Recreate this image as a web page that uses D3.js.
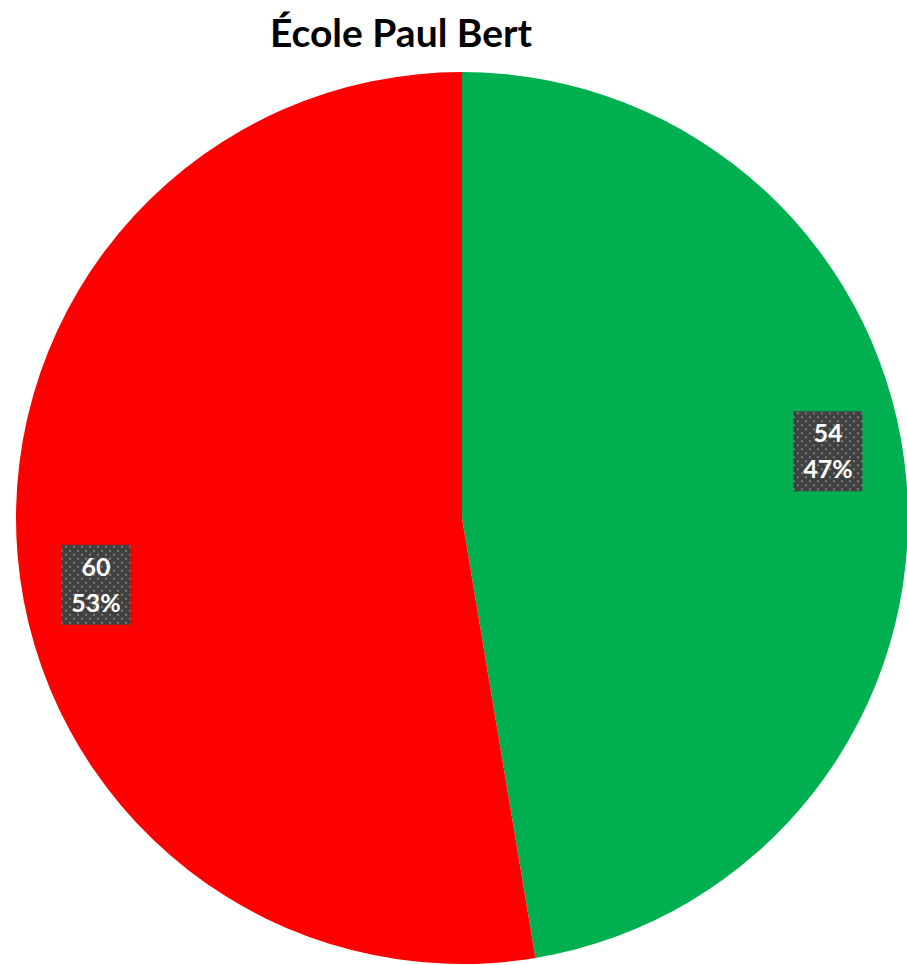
<!DOCTYPE html>
<html><head><meta charset="utf-8">
<script src="https://cdn.jsdelivr.net/npm/d3@7"></script>
<style>html,body{margin:0;padding:0;background:#fff;}svg{display:block;}</style>
</head><body>
<svg id="c" width="907" height="965"></svg>
<script>
const title = "École Paul Bert";
const categories = ["Oui", "Non"];
const values = [54, 60];
const colors = ["#00B050", "#FF0000"];

const svg = d3.select("#c");
const W = 907, H = 965;
const cx = 462, cy = 518, R = 446;

const defs = svg.append("defs");
const pat = defs.append("pattern").attr("id","dots").attr("patternUnits","userSpaceOnUse")
  .attr("width",8).attr("height",8);
pat.append("rect").attr("width",8).attr("height",8).attr("fill","#404040");
pat.append("circle").attr("cx",2).attr("cy",2).attr("r",1.1).attr("fill","#8a8a8a");
pat.append("circle").attr("cx",6).attr("cy",6).attr("r",1.1).attr("fill","#8a8a8a");

svg.append("text").attr("x",401).attr("y",47).attr("text-anchor","middle")
  .attr("font-family","Lato, 'Open Sans', sans-serif").attr("font-weight","bold")
  .attr("font-size",39).attr("fill","#000").text(title);

const pie = d3.pie().sort(null).value(d => d)(values);
const arc = d3.arc().innerRadius(0).outerRadius(R);
const g = svg.append("g").attr("transform",`translate(${cx},${cy})`);
g.selectAll("path").data(pie).join("path").attr("d",arc).attr("fill",(d,i)=>colors[i]);

const total = d3.sum(values);
const lr = 372, shift = -5.6 * Math.PI/180;
pie.forEach((d,i) => {
  const a = (d.startAngle + d.endAngle)/2 + shift;
  const x = Math.sin(a)*lr, y = -Math.cos(a)*lr;
  const lg = g.append("g").attr("transform",`translate(${x},${y})`);
  lg.append("rect").attr("x",-34.5).attr("y",-40).attr("width",69).attr("height",80).attr("fill","url(#dots)");
  const t = lg.append("text").attr("text-anchor","middle").attr("fill","#fff")
    .attr("font-family","Lato, 'Open Sans', sans-serif").attr("font-weight","bold").attr("font-size",25);
  t.append("tspan").attr("x",0).attr("y",-9).text(values[i]);
  t.append("tspan").attr("x",0).attr("y",27).text(Math.round(values[i]/total*100)+"%");
});
</script>
</body></html>
